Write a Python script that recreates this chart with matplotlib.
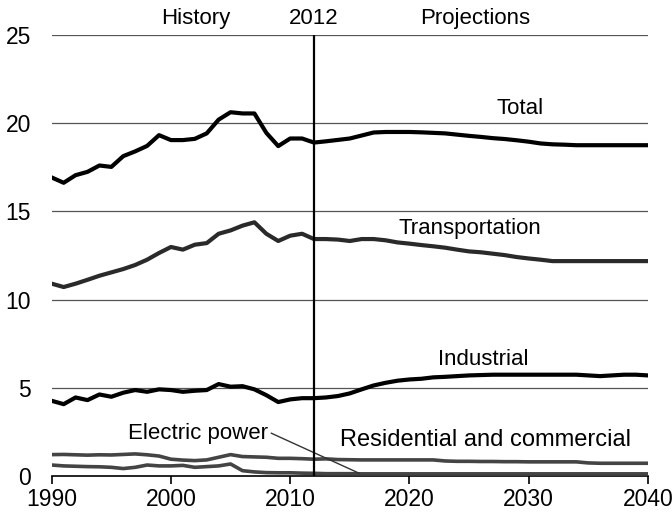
import matplotlib.pyplot as plt
import numpy as np

plt.rcParams['font.family'] = ['Liberation Sans', 'DejaVu Sans']

years = np.arange(1990, 2041)

total = [16.92, 16.62, 17.05, 17.24, 17.60, 17.52, 18.13, 18.40, 18.71, 19.32,
         19.04, 19.04, 19.11, 19.42, 20.20, 20.62, 20.55, 20.55, 19.45, 18.70,
         19.13, 19.13, 18.90, 18.97, 19.05, 19.13, 19.30, 19.47, 19.50, 19.50,
         19.50, 19.48, 19.45, 19.42, 19.35, 19.28, 19.22, 19.15, 19.10, 19.03,
         18.95, 18.85, 18.80, 18.78, 18.75, 18.75, 18.75, 18.75, 18.75, 18.75,
         18.75]
transportation = [10.90, 10.71, 10.90, 11.12, 11.35, 11.54, 11.73, 11.96, 12.26, 12.64,
                  12.98, 12.83, 13.11, 13.20, 13.73, 13.92, 14.19, 14.38, 13.73, 13.32,
                  13.62, 13.73, 13.43, 13.43, 13.40, 13.32, 13.43, 13.43, 13.36, 13.24,
                  13.17, 13.09, 13.02, 12.94, 12.83, 12.73, 12.68, 12.60, 12.52, 12.41,
                  12.33, 12.26, 12.18, 12.18, 12.18, 12.18, 12.18, 12.18, 12.18, 12.18,
                  12.18]
industrial = [4.26, 4.07, 4.45, 4.30, 4.62, 4.49, 4.72, 4.87, 4.77, 4.91,
              4.87, 4.77, 4.83, 4.87, 5.21, 5.06, 5.09, 4.91, 4.58, 4.19,
              4.34, 4.41, 4.41, 4.45, 4.53, 4.68, 4.91, 5.13, 5.28, 5.40,
              5.47, 5.51, 5.59, 5.62, 5.66, 5.70, 5.72, 5.74, 5.74, 5.74,
              5.74, 5.74, 5.74, 5.74, 5.74, 5.70, 5.66, 5.70, 5.74, 5.74,
              5.70]
residential = [1.21, 1.22, 1.20, 1.18, 1.20, 1.19, 1.22, 1.25, 1.20, 1.13,
               0.95, 0.90, 0.87, 0.91, 1.06, 1.21, 1.10, 1.08, 1.06, 1.00,
               1.00, 0.98, 0.95, 0.97, 0.93, 0.92, 0.91, 0.91, 0.91, 0.91,
               0.91, 0.91, 0.91, 0.85, 0.83, 0.83, 0.82, 0.82, 0.81, 0.81,
               0.80, 0.80, 0.80, 0.80, 0.80, 0.74, 0.72, 0.72, 0.72, 0.72,
               0.72]
electric = [0.62, 0.57, 0.55, 0.53, 0.52, 0.49, 0.42, 0.49, 0.62, 0.57,
            0.57, 0.60, 0.49, 0.53, 0.57, 0.68, 0.30, 0.23, 0.19, 0.18,
            0.18, 0.16, 0.15, 0.13, 0.13, 0.13, 0.12, 0.12, 0.12, 0.12,
            0.12, 0.12, 0.12, 0.12, 0.12, 0.12, 0.12, 0.12, 0.12, 0.12,
            0.12, 0.12, 0.12, 0.12, 0.12, 0.12, 0.12, 0.12, 0.12, 0.12,
            0.12]

fig = plt.figure(figsize=(6.72, 5.14), dpi=100)
ax = fig.add_axes([0.077, 0.074, 0.887, 0.858])

for y in [5, 10, 15, 20, 25]:
    ax.axhline(y, color='#555555', lw=0.9, zorder=1)

ax.plot(years, total, color='black', lw=3, zorder=3)
ax.plot(years, transportation, color='#2a2a2a', lw=3, zorder=3)
ax.plot(years, industrial, color='black', lw=3, zorder=3)
ax.plot(years, residential, color='#444444', lw=2.6, zorder=3)
ax.plot(years, electric, color='#444444', lw=2.6, zorder=3)

ax.axvline(2012, color='black', lw=1.6, zorder=4)

ax.set_xlim(1990, 2040)
ax.set_ylim(0, 25)
ax.set_xticks([1990, 2000, 2010, 2020, 2030, 2040])
ax.set_yticks([0, 5, 10, 15, 20, 25])
for s in ['top', 'right', 'left']:
    ax.spines[s].set_visible(False)
ax.spines['bottom'].set_linewidth(1.2)
ax.tick_params(axis='x', direction='out', length=6, width=1.2, labelsize=16.5, pad=3)
ax.tick_params(axis='y', length=0, labelsize=16.5, pad=15)

fs = 16
ax.text(2029.3, 20.85, 'Total', ha='center', va='center', fontsize=fs)
ax.text(2025.1, 14.05, 'Transportation', ha='center', va='center', fontsize=fs)
ax.text(2026.2, 6.63, 'Industrial', ha='center', va='center', fontsize=fs)
ax.text(2026.4, 2.04, 'Residential and commercial', ha='center', va='center', fontsize=17)
ax.annotate('Electric power', xy=(2015.8, 0.15), xytext=(2002.3, 2.38),
            ha='center', va='center', fontsize=fs,
            arrowprops=dict(arrowstyle='-', color='#333333', lw=1,
                            relpos=(1.0, 0.6), shrinkA=0, shrinkB=0))

ax.text(2002.1, 25.35, 'History', ha='center', va='bottom', fontsize=fs)
ax.text(2012, 25.35, '2012', ha='center', va='bottom', fontsize=fs)
ax.text(2025.5, 25.35, 'Projections', ha='center', va='bottom', fontsize=fs)

fig.savefig('out.png', dpi=100)
